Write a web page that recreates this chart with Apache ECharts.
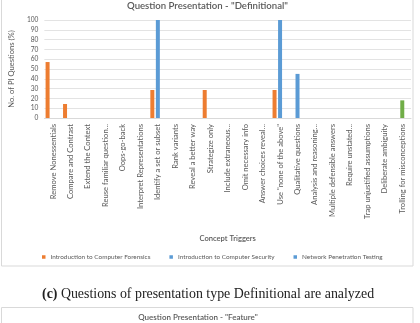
<!DOCTYPE html>
<html>
<head>
<meta charset="utf-8">
<script src="https://cdn.jsdelivr.net/npm/echarts@6/dist/echarts.min.js"></script>
<style>html,body{margin:0;padding:0;background:#fff}#c{width:420px;height:323px}</style>
</head>
<body>
<div id="c"></div>
<script>
var categories = ["Remove Nonessentials","Compare and Contrast","Extend the Context","Reuse familiar question...","Oops-go-back","Interpret Representations","Identify a set or subset","Rank variants","Reveal a better way","Strategize only","Include extraneous...","Omit necessary info","Answer choices reveal...","Use \"none of the above\"","Qualitative questions","Analysis and reasoning...","Multiple defensible answers","Require unstated...","Trap unjustified assumptions","Deliberate ambiguity","Trolling for misconceptions"];
var forensics   = [57.1,14.3,0,0,0,0,28.6,0,0,28.6,0,0,0,28.6,0,0,0,0,0,0,0];
var security    = [0,0,0,0,0,0,100,0,0,0,0,0,0,100,45,0,0,0,0,0,0];
var penetration = [0,0,0,0,0,0,0,0,0,0,0,0,0,0,0,0,0,0,0,0,0];
var unlisted    = [0,0,0,0,0,0,0,0,0,0,0,0,0,0,0,0,0,0,0,0,18];
var yTicks = [0,10,20,30,40,50,60,70,80,90,100];

var FONT = 'Lato';
var GREY = '#595959';
var chart = echarts.init(document.getElementById('c'), null, {renderer:'canvas'});
chart.setOption({
  animation: false,
  textStyle: {fontFamily: FONT},
  title: [{
    text: '{b|(c)} Questions of presentation type Definitional are analyzed',
    left: 37, top: 282,
    textStyle: {fontFamily: 'Liberation Serif', fontSize: 13.9, fontWeight: 'normal', color: '#222',
      rich: {b: {fontFamily: 'Liberation Serif', fontSize: 13.9, fontWeight: 'bold', color: '#222'}}}
  }],
  graphic: [
    {type:'rect', shape:{x:1.5, y:-2, width:411.5, height:268}, style:{fill:'none', stroke:'#d9d9d9', lineWidth:1}, silent:true},
    {type:'rect', shape:{x:1.5, y:307.5, width:411.5, height:30}, style:{fill:'none', stroke:'#d9d9d9', lineWidth:1}, silent:true},
    {type:'text', style:{x:207.5, y:5.5, text:'Question Presentation - "Definitional"', align:'center', verticalAlign:'middle', font:'600 9.6px Lato', fill:GREY}},
    {type:'text', style:{x:198, y:317, text:'Question Presentation - "Feature"', align:'center', verticalAlign:'middle', font:'600 8px Lato', fill:GREY}}
  ],
  legend: {
    data: ['Introduction to Computer Forensics','Introduction to Computer Security','Network Penetration Testing'],
    left: 37, top: 249, icon: 'rect', itemWidth: 3.5, itemHeight: 3.5, itemGap: 19,
    textStyle: {fontSize: 6.4, color: GREY, fontFamily: FONT}
  },
  grid: {left: 40, right: 9, top: 20, bottom: 205, containLabel: false},
  xAxis: {
    type: 'category', data: categories,
    name: 'Concept Triggers', nameLocation: 'middle', nameGap: 117,
    nameTextStyle: {fontSize: 7.6, fontWeight: 600, color: GREY, fontFamily: FONT},
    axisLine: {show: true, lineStyle: {color: '#d9d9d9'}},
    axisTick: {show: false},
    axisLabel: {rotate: 90, interval: 0, fontSize: 7.6, color: GREY, margin: 6, fontFamily: FONT}
  },
  yAxis: {
    type: 'value', min: 0, max: 100, interval: 10,
    name: 'No. of PI Questions (%)', nameLocation: 'middle', nameGap: 21, nameRotate: 90,
    nameTextStyle: {fontSize: 7.6, color: GREY, fontFamily: FONT},
    axisLine: {show: false}, axisTick: {show: false},
    axisLabel: {fontSize: 6.6, color: GREY, margin: 6, fontFamily: FONT,
      formatter: function(v){ return yTicks.indexOf(v) >= 0 ? String(v) : ''; }},
    splitLine: {lineStyle: {color: '#e3e3e3', width: 1}}
  },
  series: [
    {name: 'Introduction to Computer Forensics', type: 'bar', data: forensics, barWidth: 4, barGap: '38%', itemStyle: {color: '#ED7D31'}},
    {name: 'Introduction to Computer Security', type: 'bar', stack: 'mid', data: security, barWidth: 4, barGap: '38%', itemStyle: {color: '#5B9BD5'}},
    {name: 'Network Penetration Testing', type: 'bar', data: penetration, barWidth: 4, barGap: '38%', itemStyle: {color: '#5B9BD5'}},
    {name: 'Unlisted', type: 'bar', stack: 'mid', data: unlisted, barWidth: 4, barGap: '38%', itemStyle: {color: '#70AD47'}}
  ]
});
</script>
</body>
</html>
